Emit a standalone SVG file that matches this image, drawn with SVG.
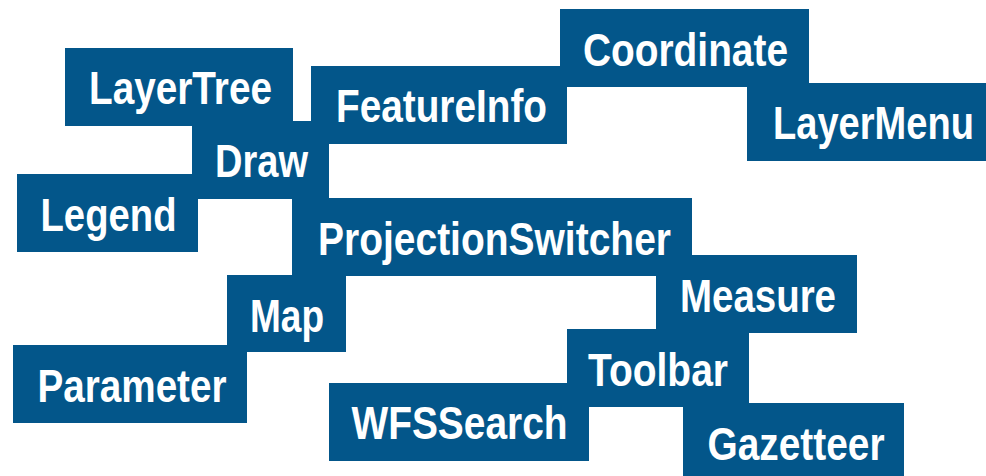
<svg xmlns="http://www.w3.org/2000/svg" width="986" height="476" viewBox="0 0 986 476">
<style>
.box{fill:#03568a}
.lbl{fill:#ffffff;font-family:"Liberation Sans",Arial,sans-serif;font-weight:bold;font-size:46.5px}
</style>
<rect width="986" height="476" fill="#ffffff"/>
<g id="LayerTree"><rect class="box" x="65" y="48" width="228" height="78"/><text class="lbl" x="89" y="104" textLength="183" lengthAdjust="spacingAndGlyphs">LayerTree</text></g>
<g id="FeatureInfo"><rect class="box" x="311" y="66" width="256" height="78"/><text class="lbl" x="336" y="122" textLength="211" lengthAdjust="spacingAndGlyphs">FeatureInfo</text></g>
<g id="Coordinate"><rect class="box" x="560" y="9" width="249" height="78"/><text class="lbl" x="583" y="66" textLength="205" lengthAdjust="spacingAndGlyphs">Coordinate</text></g>
<g id="LayerMenu"><rect class="box" x="747" y="83" width="239" height="78"/><text class="lbl" x="773" y="139" textLength="201" lengthAdjust="spacingAndGlyphs">LayerMenu</text></g>
<g id="Draw"><rect class="box" x="192" y="121" width="137" height="78"/><text class="lbl" x="215" y="177" textLength="93" lengthAdjust="spacingAndGlyphs">Draw</text></g>
<g id="Legend"><rect class="box" x="17" y="174" width="181" height="78"/><text class="lbl" x="40.5" y="231" textLength="136" lengthAdjust="spacingAndGlyphs">Legend</text></g>
<g id="ProjectionSwitcher"><rect class="box" x="292" y="198" width="400" height="78"/><text class="lbl" x="318" y="255" textLength="353" lengthAdjust="spacingAndGlyphs">ProjectionSwitcher</text></g>
<g id="Measure"><rect class="box" x="656" y="255" width="201" height="78"/><text class="lbl" x="680" y="312" textLength="156" lengthAdjust="spacingAndGlyphs">Measure</text></g>
<g id="Map"><rect class="box" x="227" y="275" width="119" height="77"/><text class="lbl" x="250" y="332" textLength="74" lengthAdjust="spacingAndGlyphs">Map</text></g>
<g id="Parameter"><rect class="box" x="13" y="345" width="234" height="78"/><text class="lbl" x="37.5" y="402" textLength="189" lengthAdjust="spacingAndGlyphs">Parameter</text></g>
<g id="Toolbar"><rect class="box" x="567" y="329" width="182" height="78"/><text class="lbl" x="588" y="386" textLength="140" lengthAdjust="spacingAndGlyphs">Toolbar</text></g>
<g id="WFSSearch"><rect class="box" x="329" y="383" width="260" height="78"/><text class="lbl" x="351.5" y="439" textLength="216" lengthAdjust="spacingAndGlyphs">WFSSearch</text></g>
<g id="Gazetteer"><rect class="box" x="683" y="403" width="221" height="73"/><text class="lbl" x="707.5" y="459.5" textLength="177" lengthAdjust="spacingAndGlyphs">Gazetteer</text></g>
<g id="connectors"/>
</svg>
